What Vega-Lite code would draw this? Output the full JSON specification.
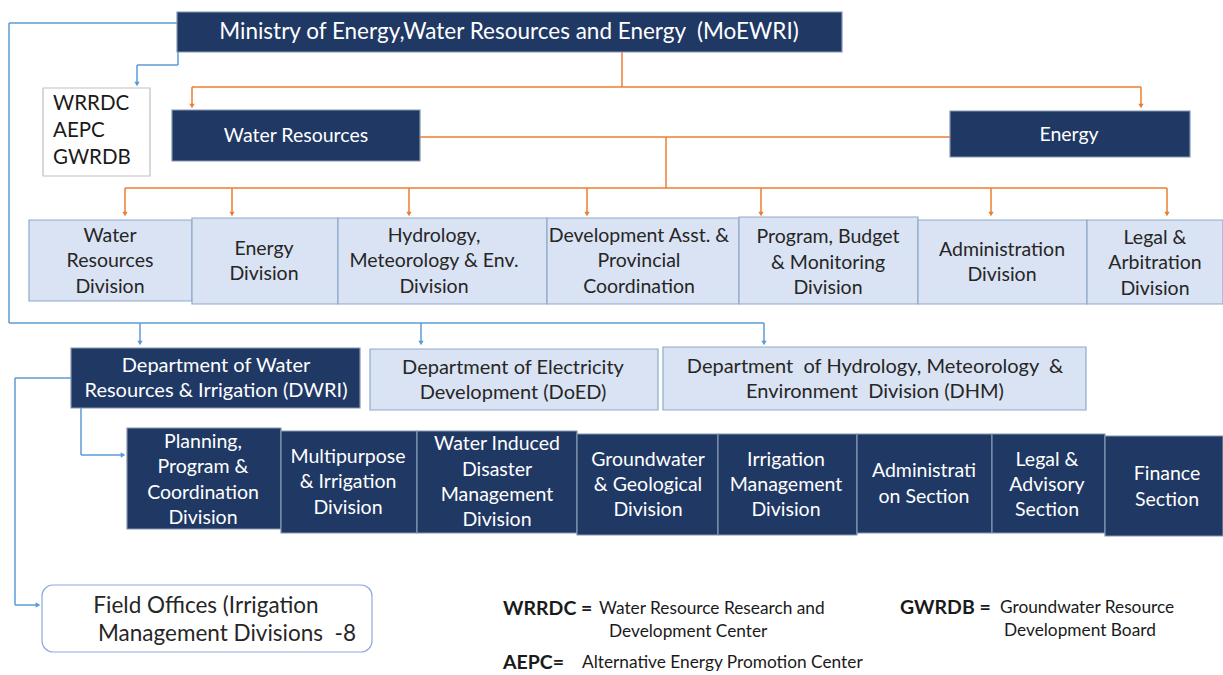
{
  "$schema": "https://vega.github.io/schema/vega-lite/v6.json",
  "width": 1223,
  "height": 675,
  "autosize": {"type": "none"},
  "padding": 0,
  "background": "#ffffff",
  "config": {"view": {"stroke": null}, "font": "Lato"},
  "datasets": {
    "boxes": [
      {"name": "Ministry", "x": 177, "x2": 842, "y": 12, "y2": 52, "tier": "dark"},
      {"name": "Water Resources", "x": 172, "x2": 420, "y": 110, "y2": 161, "tier": "dark"},
      {"name": "Energy", "x": 950, "x2": 1190, "y": 111, "y2": 157, "tier": "dark"},
      {"name": "WRD", "x": 29, "x2": 192, "y": 220, "y2": 301, "tier": "light"},
      {"name": "EnergyDiv", "x": 192, "x2": 338, "y": 218, "y2": 304, "tier": "light"},
      {"name": "Hydrology", "x": 338, "x2": 547, "y": 218, "y2": 304, "tier": "light"},
      {"name": "DevAsst", "x": 547, "x2": 739, "y": 218, "y2": 304, "tier": "light"},
      {"name": "Program", "x": 739, "x2": 918, "y": 217, "y2": 304, "tier": "light"},
      {"name": "AdminDiv", "x": 918, "x2": 1087, "y": 220, "y2": 304, "tier": "light"},
      {"name": "LegalArb", "x": 1087, "x2": 1223, "y": 220, "y2": 304, "tier": "light"},
      {"name": "DWRI", "x": 71, "x2": 360, "y": 348, "y2": 408, "tier": "dark"},
      {"name": "DoED", "x": 370, "x2": 658, "y": 349, "y2": 410, "tier": "light"},
      {"name": "DHM", "x": 663, "x2": 1086, "y": 347, "y2": 410, "tier": "light"},
      {"name": "Planning", "x": 127, "x2": 281, "y": 428, "y2": 529, "tier": "dark"},
      {"name": "Multipurpose", "x": 281, "x2": 417, "y": 431, "y2": 533, "tier": "dark"},
      {"name": "WaterInduced", "x": 417, "x2": 577, "y": 431, "y2": 533, "tier": "dark"},
      {"name": "Groundwater", "x": 577, "x2": 718, "y": 434, "y2": 535, "tier": "dark"},
      {"name": "Irrigation", "x": 718, "x2": 857, "y": 434, "y2": 535, "tier": "dark"},
      {"name": "AdminSection", "x": 857, "x2": 992, "y": 434, "y2": 533, "tier": "dark"},
      {"name": "LegalAdvisory", "x": 992, "x2": 1105, "y": 434, "y2": 533, "tier": "dark"},
      {"name": "Finance", "x": 1105, "x2": 1223, "y": 436, "y2": 536, "tier": "dark"},
      {"name": "Agencies", "x": 43, "x2": 150, "y": 88, "y2": 176, "tier": "plain"}
    ],
    "field": [
      {"name": "Field Offices", "x": 42, "x2": 372, "y": 585, "y2": 652}
    ],
    "links": [
      {"x": 622, "y": 52, "x2": 622, "y2": 87, "line": "orange"},
      {"x": 192, "y": 87, "x2": 1141, "y2": 87, "line": "orange"},
      {"x": 192, "y": 87, "x2": 192, "y2": 104, "line": "orange"},
      {"x": 1141, "y": 87, "x2": 1141, "y2": 104, "line": "orange"},
      {"x": 420, "y": 137, "x2": 950, "y2": 137, "line": "orange"},
      {"x": 666, "y": 137, "x2": 666, "y2": 188, "line": "orange"},
      {"x": 125, "y": 188, "x2": 1167, "y2": 188, "line": "orange"},
      {"x": 125, "y": 188, "x2": 125, "y2": 212, "line": "orange"},
      {"x": 232, "y": 188, "x2": 232, "y2": 212, "line": "orange"},
      {"x": 409, "y": 188, "x2": 409, "y2": 212, "line": "orange"},
      {"x": 587, "y": 188, "x2": 587, "y2": 212, "line": "orange"},
      {"x": 761, "y": 188, "x2": 761, "y2": 212, "line": "orange"},
      {"x": 991, "y": 188, "x2": 991, "y2": 212, "line": "orange"},
      {"x": 1167, "y": 188, "x2": 1167, "y2": 212, "line": "orange"},
      {"x": 177, "y": 23, "x2": 9, "y2": 23, "line": "blue"},
      {"x": 9, "y": 23, "x2": 9, "y2": 323, "line": "blue"},
      {"x": 9, "y": 323, "x2": 764, "y2": 323, "line": "blue"},
      {"x": 140, "y": 323, "x2": 140, "y2": 341, "line": "blue"},
      {"x": 421, "y": 323, "x2": 421, "y2": 341, "line": "blue"},
      {"x": 764, "y": 323, "x2": 764, "y2": 341, "line": "blue"},
      {"x": 178, "y": 52, "x2": 178, "y2": 65, "line": "blue"},
      {"x": 178, "y": 65, "x2": 137, "y2": 65, "line": "blue"},
      {"x": 137, "y": 65, "x2": 137, "y2": 82, "line": "blue"},
      {"x": 71, "y": 378, "x2": 15, "y2": 378, "line": "blue"},
      {"x": 15, "y": 378, "x2": 15, "y2": 605, "line": "blue"},
      {"x": 15, "y": 605, "x2": 36, "y2": 605, "line": "blue"},
      {"x": 81, "y": 408, "x2": 81, "y2": 455, "line": "blue"},
      {"x": 81, "y": 455, "x2": 121, "y2": 455, "line": "blue"}
    ],
    "arrows": [
      {"x": 192, "y": 106, "line": "orange", "dir": "down"},
      {"x": 1141, "y": 106, "line": "orange", "dir": "down"},
      {"x": 125, "y": 214, "line": "orange", "dir": "down"},
      {"x": 232, "y": 214, "line": "orange", "dir": "down"},
      {"x": 409, "y": 214, "line": "orange", "dir": "down"},
      {"x": 587, "y": 214, "line": "orange", "dir": "down"},
      {"x": 761, "y": 214, "line": "orange", "dir": "down"},
      {"x": 991, "y": 214, "line": "orange", "dir": "down"},
      {"x": 1167, "y": 214, "line": "orange", "dir": "down"},
      {"x": 137, "y": 84, "line": "blue", "dir": "down"},
      {"x": 140, "y": 343, "line": "blue", "dir": "down"},
      {"x": 421, "y": 343, "line": "blue", "dir": "down"},
      {"x": 764, "y": 343, "line": "blue", "dir": "down"},
      {"x": 123, "y": 455, "line": "blue", "dir": "right"},
      {"x": 38, "y": 605, "line": "blue", "dir": "right"}
    ],
    "labels": [
      {"x": 509, "y": 32, "text": "Ministry of Energy,Water Resources and Energy\u00a0 (MoEWRI)", "role": "ministry"},
      {"x": 296, "y": 136, "text": "Water Resources", "role": "dark"},
      {"x": 1069, "y": 135, "text": "Energy", "role": "dark"},
      {"x": 110, "y": 236, "text": "Water", "role": "light"},
      {"x": 110, "y": 261, "text": "Resources", "role": "light"},
      {"x": 110, "y": 287, "text": "Division", "role": "light"},
      {"x": 264, "y": 249, "text": "Energy", "role": "light"},
      {"x": 264, "y": 274, "text": "Division", "role": "light"},
      {"x": 434, "y": 236, "text": "Hydrology,", "role": "light"},
      {"x": 434, "y": 261, "text": "Meteorology & Env.", "role": "light"},
      {"x": 434, "y": 287, "text": "Division", "role": "light"},
      {"x": 639, "y": 236, "text": "Development Asst. &", "role": "light"},
      {"x": 639, "y": 261, "text": "Provincial", "role": "light"},
      {"x": 639, "y": 287, "text": "Coordination", "role": "light"},
      {"x": 828, "y": 237, "text": "Program, Budget", "role": "light"},
      {"x": 828, "y": 263, "text": "& Monitoring", "role": "light"},
      {"x": 828, "y": 288, "text": "Division", "role": "light"},
      {"x": 1002, "y": 250, "text": "Administration", "role": "light"},
      {"x": 1002, "y": 275, "text": "Division", "role": "light"},
      {"x": 1155, "y": 238, "text": "Legal &", "role": "light"},
      {"x": 1155, "y": 263, "text": "Arbitration", "role": "light"},
      {"x": 1155, "y": 289, "text": "Division", "role": "light"},
      {"x": 216, "y": 366, "text": "Department of Water", "role": "deptdark"},
      {"x": 216, "y": 391, "text": "Resources & Irrigation (DWRI)", "role": "deptdark"},
      {"x": 513, "y": 368, "text": "Department of Electricity", "role": "deptlight"},
      {"x": 513, "y": 393, "text": "Development (DoED)", "role": "deptlight"},
      {"x": 875, "y": 367, "text": "Department\u00a0 of Hydrology, Meteorology\u00a0 &", "role": "deptlight"},
      {"x": 875, "y": 392, "text": "Environment\u00a0 Division (DHM)", "role": "deptlight"},
      {"x": 203, "y": 442, "text": "Planning,", "role": "dark"},
      {"x": 203, "y": 467, "text": "Program &", "role": "dark"},
      {"x": 203, "y": 493, "text": "Coordination", "role": "dark"},
      {"x": 203, "y": 518, "text": "Division", "role": "dark"},
      {"x": 348, "y": 457, "text": "Multipurpose", "role": "dark"},
      {"x": 348, "y": 482, "text": "& Irrigation", "role": "dark"},
      {"x": 348, "y": 508, "text": "Division", "role": "dark"},
      {"x": 497, "y": 444, "text": "Water Induced", "role": "dark"},
      {"x": 497, "y": 470, "text": "Disaster", "role": "dark"},
      {"x": 497, "y": 495, "text": "Management", "role": "dark"},
      {"x": 497, "y": 520, "text": "Division", "role": "dark"},
      {"x": 648, "y": 460, "text": "Groundwater", "role": "dark"},
      {"x": 648, "y": 485, "text": "& Geological", "role": "dark"},
      {"x": 648, "y": 510, "text": "Division", "role": "dark"},
      {"x": 786, "y": 460, "text": "Irrigation", "role": "dark"},
      {"x": 786, "y": 485, "text": "Management", "role": "dark"},
      {"x": 786, "y": 510, "text": "Division", "role": "dark"},
      {"x": 924, "y": 471, "text": "Administrati", "role": "dark"},
      {"x": 924, "y": 497, "text": "on Section", "role": "dark"},
      {"x": 1047, "y": 460, "text": "Legal &", "role": "dark"},
      {"x": 1047, "y": 485, "text": "Advisory", "role": "dark"},
      {"x": 1047, "y": 510, "text": "Section", "role": "dark"},
      {"x": 1167, "y": 474, "text": "Finance", "role": "dark"},
      {"x": 1167, "y": 500, "text": "Section", "role": "dark"},
      {"x": 206, "y": 606, "text": "Field Offices (Irrigation", "role": "field"},
      {"x": 227, "y": 634, "text": "Management Divisions\u00a0 -8", "role": "field"}
    ],
    "notes": [
      {"x": 53, "y": 104, "text": "WRRDC", "role": "agency"},
      {"x": 53, "y": 131, "text": "AEPC", "role": "agency"},
      {"x": 53, "y": 158, "text": "GWRDB", "role": "agency"},
      {"x": 503, "y": 609, "text": "WRRDC =", "role": "key"},
      {"x": 503, "y": 663, "text": "AEPC=", "role": "key"},
      {"x": 900, "y": 608, "text": "GWRDB =", "role": "key"},
      {"x": 599, "y": 609, "text": "Water Resource Research and", "role": "desc"},
      {"x": 609, "y": 632, "text": "Development Center", "role": "desc"},
      {"x": 582, "y": 663, "text": "Alternative Energy Promotion Center", "role": "desc"},
      {"x": 1000, "y": 608, "text": "Groundwater Resource", "role": "desc"},
      {"x": 1004, "y": 631, "text": "Development Board", "role": "desc"}
    ]
  },
  "encoding": {
    "x": {"field": "x", "type": "quantitative", "scale": {"domain": [0, 1223], "nice": false, "zero": false}, "axis": null},
    "y": {"field": "y", "type": "quantitative", "scale": {"domain": [0, 675], "nice": false, "zero": false, "reverse": true}, "axis": null}
  },
  "layer": [
    {
      "data": {"name": "links"},
      "mark": {"type": "rule", "strokeWidth": 1.5},
      "encoding": {
        "x2": {"field": "x2"},
        "y2": {"field": "y2"},
        "color": {"field": "line", "type": "nominal", "scale": {"domain": ["orange", "blue"], "range": ["#ed7d31", "#5b9bd5"]}, "legend": null}
      }
    },
    {
      "data": {"name": "arrows"},
      "mark": {"type": "point", "filled": true, "size": 28, "opacity": 1},
      "encoding": {
        "color": {"field": "line", "type": "nominal", "scale": {"domain": ["orange", "blue"], "range": ["#ed7d31", "#5b9bd5"]}, "legend": null},
        "shape": {"field": "dir", "type": "nominal", "scale": {"domain": ["down", "right"], "range": ["triangle-down", "triangle-right"]}, "legend": null}
      }
    },
    {
      "data": {"name": "boxes"},
      "mark": {"type": "rect", "strokeWidth": 1.2},
      "encoding": {
        "x2": {"field": "x2"},
        "y2": {"field": "y2"},
        "fill": {"field": "tier", "type": "nominal", "scale": {"domain": ["dark", "light", "plain"], "range": ["#203864", "#dae3f3", "#ffffff"]}, "legend": null},
        "stroke": {"field": "tier", "type": "nominal", "scale": {"domain": ["dark", "light", "plain"], "range": ["#8497b0", "#8eaacb", "#bfbfbf"]}, "legend": null}
      }
    },
    {
      "data": {"name": "field"},
      "mark": {"type": "rect", "fill": "#ffffff", "stroke": "#8eaadb", "strokeWidth": 1.2, "cornerRadius": 11},
      "encoding": {"x2": {"field": "x2"}, "y2": {"field": "y2"}}
    },
    {
      "data": {"name": "labels"},
      "transform": [{"filter": "datum.role === 'ministry'"}],
      "mark": {"type": "text", "align": "center", "baseline": "middle", "fontSize": 22.5, "fill": "#ffffff", "font": "Lato"},
      "encoding": {"text": {"field": "text"}}
    },
    {
      "data": {"name": "labels"},
      "transform": [{"filter": "datum.role === 'dark'"}],
      "mark": {"type": "text", "align": "center", "baseline": "middle", "fontSize": 19.5, "fill": "#ffffff", "font": "Lato"},
      "encoding": {"text": {"field": "text"}}
    },
    {
      "data": {"name": "labels"},
      "transform": [{"filter": "datum.role === 'light'"}],
      "mark": {"type": "text", "align": "center", "baseline": "middle", "fontSize": 19.5, "fill": "#262626", "font": "Lato"},
      "encoding": {"text": {"field": "text"}}
    },
    {
      "data": {"name": "labels"},
      "transform": [{"filter": "datum.role === 'deptdark'"}],
      "mark": {"type": "text", "align": "center", "baseline": "middle", "fontSize": 20, "fill": "#ffffff", "font": "Lato"},
      "encoding": {"text": {"field": "text"}}
    },
    {
      "data": {"name": "labels"},
      "transform": [{"filter": "datum.role === 'deptlight'"}],
      "mark": {"type": "text", "align": "center", "baseline": "middle", "fontSize": 20, "fill": "#262626", "font": "Lato"},
      "encoding": {"text": {"field": "text"}}
    },
    {
      "data": {"name": "labels"},
      "transform": [{"filter": "datum.role === 'field'"}],
      "mark": {"type": "text", "align": "center", "baseline": "middle", "fontSize": 22.5, "fill": "#262626", "font": "Lato"},
      "encoding": {"text": {"field": "text"}}
    },
    {
      "data": {"name": "notes"},
      "transform": [{"filter": "datum.role === 'agency'"}],
      "mark": {"type": "text", "align": "left", "baseline": "middle", "fontSize": 20.5, "fill": "#1a1a1a", "font": "Lato"},
      "encoding": {"text": {"field": "text"}}
    },
    {
      "data": {"name": "notes"},
      "transform": [{"filter": "datum.role === 'key'"}],
      "mark": {"type": "text", "align": "left", "baseline": "middle", "fontSize": 19.5, "fontWeight": "bold", "fill": "#1a1a1a", "font": "Lato"},
      "encoding": {"text": {"field": "text"}}
    },
    {
      "data": {"name": "notes"},
      "transform": [{"filter": "datum.role === 'desc'"}],
      "mark": {"type": "text", "align": "left", "baseline": "middle", "fontSize": 17.3, "fill": "#1a1a1a", "font": "Lato"},
      "encoding": {"text": {"field": "text"}}
    }
  ],
  "resolve": {"scale": {"color": "independent", "fill": "independent", "stroke": "independent", "shape": "independent"}}
}
